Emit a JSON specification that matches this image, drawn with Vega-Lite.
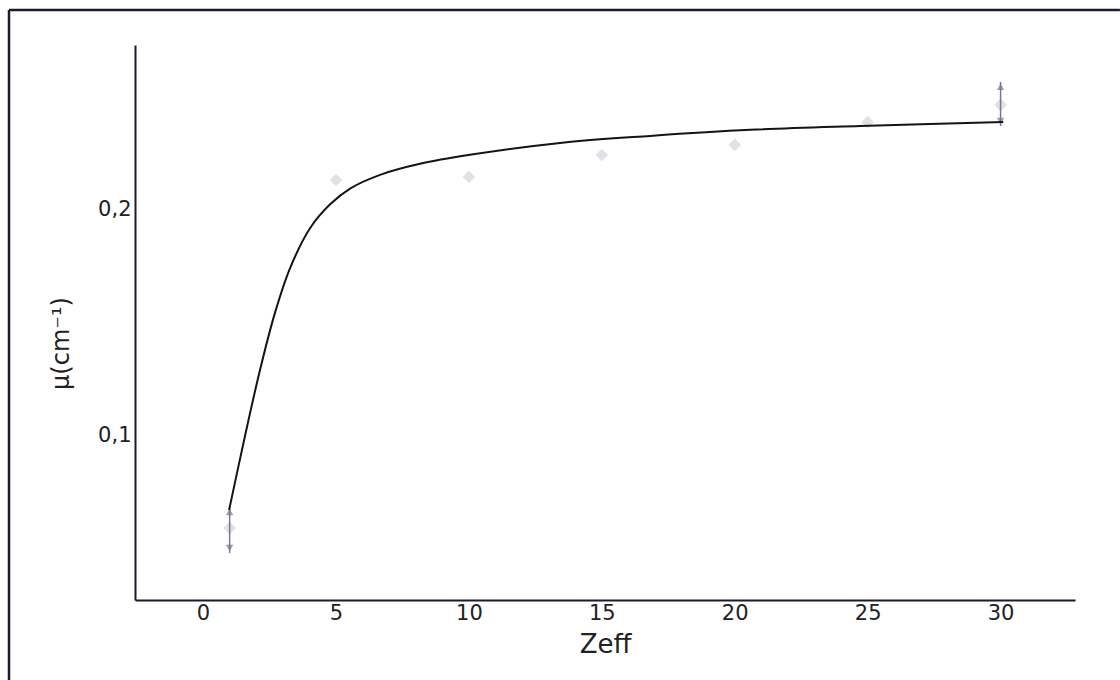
{
  "$schema": "https://vega.github.io/schema/vega-lite/v6.json",
  "width": 940,
  "height": 555,
  "autosize": "none",
  "padding": {"left": 135, "top": 45, "right": 45, "bottom": 80},
  "background": "white",
  "config": {
    "view": {"stroke": null},
    "font": "DejaVu Sans",
    "axis": {"grid": false, "ticks": false, "domainColor": "#1c1a2c", "domainWidth": 2, "labelColor": "#222222", "titleColor": "#222222", "labelFont": "DejaVu Sans", "titleFont": "DejaVu Sans", "titleFontWeight": "normal"}
  },
  "datasets": {
    "fit": [
      {"z": 0.98, "mu": 0.0667},
      {"z": 1.58, "mu": 0.0997},
      {"z": 2.14, "mu": 0.1288},
      {"z": 2.71, "mu": 0.1545},
      {"z": 3.27, "mu": 0.1741},
      {"z": 4.03, "mu": 0.1920},
      {"z": 4.78, "mu": 0.2025},
      {"z": 5.53, "mu": 0.2095},
      {"z": 6.66, "mu": 0.2156},
      {"z": 8.16, "mu": 0.2205},
      {"z": 10.04, "mu": 0.2245},
      {"z": 13.43, "mu": 0.2298},
      {"z": 16.82, "mu": 0.2329},
      {"z": 20.58, "mu": 0.2356},
      {"z": 24.72, "mu": 0.2373},
      {"z": 30.1, "mu": 0.2391}
    ],
    "obs": [
      {"z": 1, "mu": 0.0587},
      {"z": 5, "mu": 0.2133},
      {"z": 10, "mu": 0.2147},
      {"z": 15, "mu": 0.2244},
      {"z": 20, "mu": 0.2289},
      {"z": 25, "mu": 0.239},
      {"z": 30, "mu": 0.2467}
    ],
    "err": [
      {"z": 1, "lo": 0.0476, "hi": 0.068},
      {"z": 30, "lo": 0.2373, "hi": 0.2569}
    ]
  },
  "encoding": {
    "x": {"type": "quantitative"},
    "y": {"type": "quantitative"}
  },
  "layer": [
    {
      "data": {"name": "obs"},
      "mark": {"type": "point", "shape": "diamond", "filled": true, "size": 160, "color": "#c8c8d4", "opacity": 0.55},
      "encoding": {
        "x": {"field": "z", "type": "quantitative", "scale": {"domain": [-2.56, 32.8], "nice": false, "zero": false},
          "axis": {"values": [0, 5, 10, 15, 20, 25, 30], "labelFontSize": 21, "labelPadding": 2, "title": "Zeff", "titleFontSize": 26, "titlePadding": 8}},
        "y": {"field": "mu", "type": "quantitative", "scale": {"domain": [0.0267, 0.2733], "nice": false, "zero": false},
          "axis": {"values": [0.1, 0.2], "labelExpr": "replace(format(datum.value, '.1f'), '.', ',')", "labelFontSize": 21, "labelPadding": 4, "title": "μ(cm⁻¹)", "titleFontSize": 24, "titlePadding": 24, "titleY": 298}}
      }
    },
    {
      "data": {"name": "err"},
      "mark": {"type": "rule", "color": "#7d7494", "strokeWidth": 1.5},
      "encoding": {
        "x": {"field": "z", "type": "quantitative"},
        "y": {"field": "lo", "type": "quantitative"},
        "y2": {"field": "hi"}
      }
    },
    {
      "data": {"name": "err"},
      "mark": {"type": "point", "shape": "triangle-up", "filled": true, "size": 55, "color": "#7d7494", "yOffset": 5},
      "encoding": {
        "x": {"field": "z", "type": "quantitative"},
        "y": {"field": "hi", "type": "quantitative"}
      }
    },
    {
      "data": {"name": "err"},
      "mark": {"type": "point", "shape": "triangle-down", "filled": true, "size": 55, "color": "#7d7494", "yOffset": -5},
      "encoding": {
        "x": {"field": "z", "type": "quantitative"},
        "y": {"field": "lo", "type": "quantitative"}
      }
    },
    {
      "data": {"name": "fit"},
      "mark": {"type": "line", "interpolate": "catmull-rom", "color": "#141414", "strokeWidth": 2},
      "encoding": {
        "x": {"field": "z", "type": "quantitative"},
        "y": {"field": "mu", "type": "quantitative"}
      }
    },
    {
      "data": {"values": [{}]},
      "mark": {"type": "rule", "color": "#1c1a2c", "strokeWidth": 2.5, "clip": false},
      "encoding": {
        "x": {"datum": -7.3, "type": "quantitative"},
        "y": {"datum": -0.0089, "type": "quantitative"},
        "y2": {"datum": 0.2889}
      }
    },
    {
      "data": {"values": [{}]},
      "mark": {"type": "rule", "color": "#1c1a2c", "strokeWidth": 2.5, "clip": false},
      "encoding": {
        "x": {"datum": -7.3, "type": "quantitative"},
        "x2": {"datum": 34.49},
        "y": {"datum": 0.2889, "type": "quantitative"}
      }
    }
  ]
}
